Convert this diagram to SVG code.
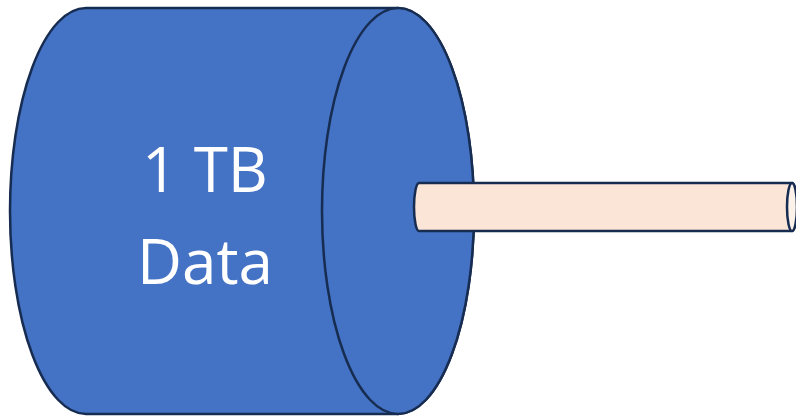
<svg xmlns="http://www.w3.org/2000/svg" width="796" height="416" viewBox="0 0 796 416">
<style>
.edge{stroke:#172C51;stroke-width:2.5;stroke-linejoin:round}
.lbl{font-family:"Open Sans","Liberation Sans",sans-serif;font-size:62px;fill:#FFFFFF;text-anchor:middle}
</style>
<rect width="796" height="416" fill="#FFFFFF"/>
<g id="cylinder">
<path class="edge" fill="#4472C4" d="M86,8 L398,8 A76,203 0 0 1 398,414 L86,414 A76,203 0 0 1 86,8 Z"/>
<ellipse class="edge" fill="#4472C4" cx="398" cy="211" rx="76" ry="203"/>
<text class="lbl" x="205" y="192">1 TB</text>
<text class="lbl" x="205" y="284">Data</text>
</g>
<g id="pipe">
<path class="edge" fill="#FBE5D6" d="M419,183 L792,183 A5,24 0 0 1 792,231 L419,231 A5,24 0 0 1 419,183 Z"/>
<ellipse class="edge" fill="#FDF2EA" cx="792" cy="207" rx="5" ry="24"/>
</g>
<g id="connectors"></g>
</svg>
